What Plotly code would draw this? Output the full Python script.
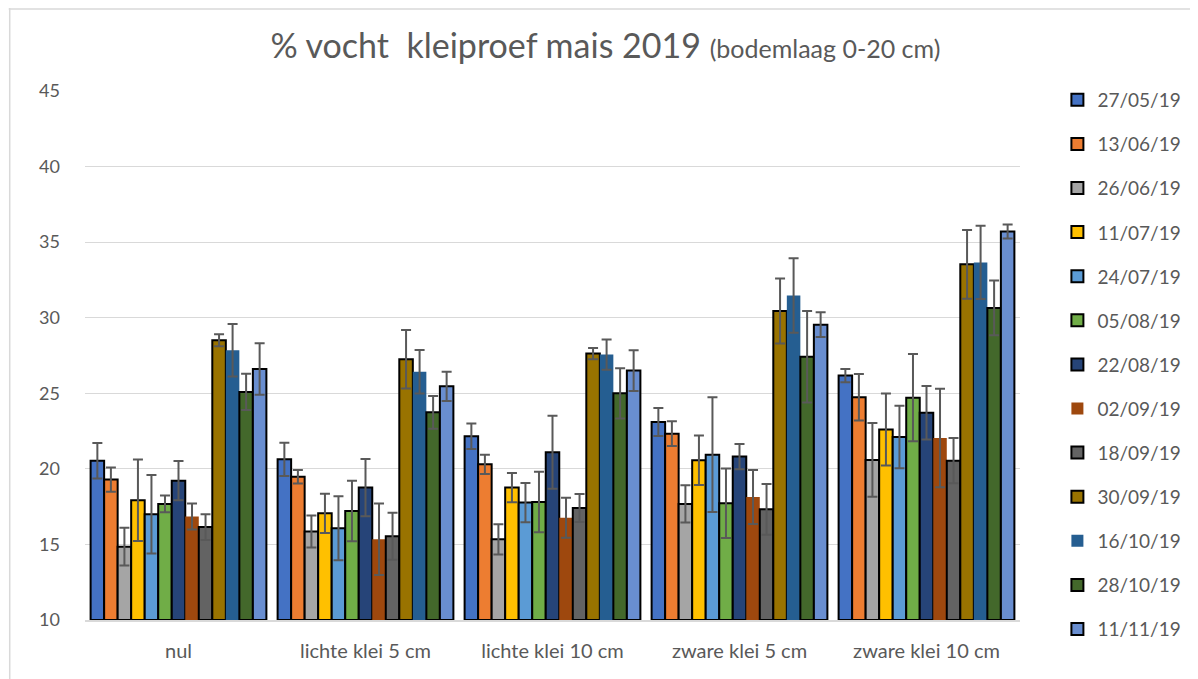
import plotly.graph_objects as go

categories = ["nul", "lichte klei 5 cm", "lichte klei 10 cm", "zware klei 5 cm", "zware klei 10 cm"]
series_names = ["27/05/19", "13/06/19", "26/06/19", "11/07/19", "24/07/19", "05/08/19", "22/08/19",
                "02/09/19", "18/09/19", "30/09/19", "16/10/19", "28/10/19", "11/11/19"]
colors = ["#4472C4", "#ED7D31", "#A5A5A5", "#FFC000", "#5B9BD5", "#70AD47", "#264478",
          "#9E480E", "#636363", "#997300", "#255E91", "#43682B", "#698ED0"]
outlined = [True, True, True, True, True, True, True, False, True, True, False, True, True]

v_2705 = [20.54, 20.63, 22.16, 23.10, 26.17]
v_1306 = [19.29, 19.48, 20.30, 22.33, 24.74]
v_2606 = [14.85, 15.85, 15.34, 17.68, 20.59]
v_1107 = [17.92, 17.06, 18.76, 20.57, 22.60]
v_2407 = [17.00, 16.07, 17.77, 20.94, 22.11]
v_0508 = [17.68, 17.21, 17.81, 17.72, 24.71]
v_2208 = [19.22, 18.76, 21.10, 20.81, 23.72]
v_0209 = [16.84, 15.34, 16.77, 18.14, 22.04]
v_1809 = [16.15, 15.54, 17.41, 17.32, 20.54]
v_3009 = [28.51, 27.25, 27.63, 30.45, 33.53]
v_1610 = [27.85, 26.43, 27.56, 31.47, 33.66]
v_2810 = [25.09, 23.74, 25.00, 27.42, 30.65]
v_1111 = [26.61, 25.46, 26.50, 29.54, 35.70]

e_2705 = [1.17, 1.10, 0.84, 0.93, 0.44]
e_1306 = [0.80, 0.45, 0.64, 0.82, 1.54]
e_2606 = [1.25, 1.06, 1.00, 1.23, 2.44]
e_1107 = [2.70, 1.30, 0.97, 1.63, 2.38]
e_2407 = [2.60, 2.12, 1.30, 3.80, 2.07]
e_0508 = [0.55, 2.00, 2.00, 2.30, 2.89]
e_2208 = [1.30, 1.90, 2.42, 0.84, 1.77]
e_0209 = [0.86, 2.36, 1.32, 1.79, 3.26]
e_1809 = [0.85, 1.56, 0.93, 1.68, 1.50]
e_3009 = [0.40, 1.94, 0.37, 2.15, 2.27]
e_1610 = [1.74, 1.44, 1.00, 2.47, 2.43]
e_2810 = [1.20, 1.08, 1.66, 3.03, 1.81]
e_1111 = [1.70, 0.97, 1.35, 0.82, 0.46]

values = [v_2705, v_1306, v_2606, v_1107, v_2407, v_0508, v_2208, v_0209, v_1809, v_3009, v_1610, v_2810, v_1111]
errors = [e_2705, e_1306, e_2606, e_1107, e_2407, e_0508, e_2208, e_0209, e_1809, e_3009, e_1610, e_2810, e_1111]

y_ticks = [10, 15, 20, 25, 30, 35, 40, 45]

FONT = "Lato, 'Open Sans', sans-serif"
GRAY = "#595959"

fig = go.Figure()
for name, col, out, vals, errs in zip(series_names, colors, outlined, values, errors):
    fig.add_trace(go.Bar(
        name=name,
        x=categories,
        y=[v - 10 for v in vals],
        base=10,
        marker=dict(color=col, line=dict(color="black" if out else col, width=2 if out else 0)),
        error_y=dict(type="data", array=errs, visible=True, color=GRAY, thickness=2, width=5),
        legendgroup=name,
        hoverinfo="skip",
    ))

fig.update_layout(
    width=1190, height=671,
    barmode="group", bargap=0.06, bargroupgap=0,
    plot_bgcolor="white", paper_bgcolor="white",
    margin=dict(l=77, r=169, t=83, b=59),
    font=dict(family=FONT, color=GRAY),
    title=dict(
        text="% vocht  kleiproef mais 2019 <span style='font-size:25px'>(bodemlaag 0-20 cm)</span>",
        font=dict(size=34, family=FONT, color=GRAY),
        x=0.502, xanchor="center", xref="container", y=0.943, yanchor="middle",
    ),
    legend=dict(
        x=1.04, xanchor="left", y=1.019, yanchor="top",
        font=dict(size=19, family=FONT, color=GRAY),
        tracegroupgap=16.4, itemwidth=30, maxheight=700,
        bgcolor="rgba(0,0,0,0)",
    ),
    xaxis=dict(
        tickfont=dict(size=20, family=FONT, color=GRAY),
        showline=True, linecolor="#d9d9d9", linewidth=1.5,
        ticks="", showgrid=False, ticklabelstandoff=12,
    ),
    yaxis=dict(
        range=[10, 45], tickvals=y_ticks,
        tickfont=dict(size=18, family=FONT, color=GRAY),
        showgrid=True, gridcolor="#d9d9d9", gridwidth=1.2,
        zeroline=False, showline=False, ticks="",
        ticklabelstandoff=24,
    ),
    shapes=[
        dict(type="line", xref="paper", yref="paper", x0=-77/944, x1=1.5, y0=1 + 82/529, y1=1 + 82/529,
             line=dict(color="#d9d9d9", width=1.5)),
        dict(type="line", xref="paper", yref="paper", x0=-76/944, x1=-76/944, y0=-0.2, y1=1.3,
             line=dict(color="#d9d9d9", width=1.5)),
    ],
)

fig.write_html("out.html")
